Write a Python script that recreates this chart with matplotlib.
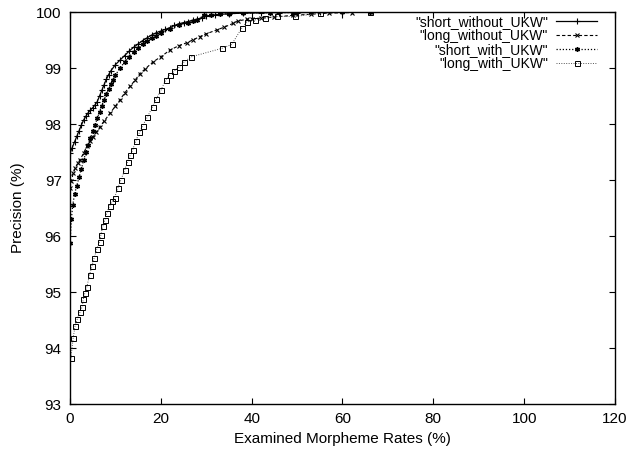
import matplotlib
matplotlib.use("Agg")
import matplotlib.pyplot as plt

plt.rcParams['font.family'] = ['Liberation Sans', 'DejaVu Sans']

# short_without_UKW
s1_x = [0, 0.5, 1, 1.5, 2, 2.5, 3, 3.5, 4, 4.5, 5, 5.5, 6, 6.5, 7, 7.5, 8, 8.5, 9, 10,
        11, 12, 13, 14, 15, 16, 17, 18, 19, 20, 21, 22, 23, 24, 25, 26, 27, 28, 29, 30,
        32, 35, 38, 42, 46, 50, 55, 60, 66]
s1_y = [97.48, 97.58, 97.68, 97.78, 97.88, 97.98, 98.07, 98.14, 98.2, 98.25,
        98.29, 98.34, 98.4, 98.5, 98.6, 98.7, 98.8, 98.88, 98.95, 99.06,
        99.14, 99.22, 99.3, 99.37, 99.43, 99.49, 99.54, 99.59, 99.63, 99.66,
        99.69, 99.72, 99.76, 99.79, 99.81, 99.83, 99.85, 99.87, 99.9, 99.93,
        99.95, 99.97, 99.98, 99.985, 99.99, 99.99, 99.995, 100, 100]

# long_without_UKW
s2_x = [0, 0.3, 0.7, 1.2, 1.7, 2.2, 3, 3.7, 4.4, 5.1,
        5.8, 6.6, 7.5, 8.8, 10, 11, 12, 13.2, 14.3, 15.4,
        16.5, 18.3, 20, 22, 24, 25.7, 27, 28.6, 30, 32.3,
        34, 36, 37, 38.9, 40, 42, 45, 49, 53, 57, 62, 66]
s2_y = [96.86, 96.98, 97.12, 97.22, 97.3, 97.36, 97.48, 97.6, 97.69, 97.77,
        97.86, 97.95, 98.05, 98.19, 98.32, 98.43, 98.55, 98.67, 98.78, 98.9,
        98.98, 99.11, 99.2, 99.32, 99.4, 99.45, 99.5, 99.56, 99.61, 99.68,
        99.73, 99.8, 99.84, 99.87, 99.88, 99.89, 99.91, 99.94, 99.96, 99.98, 99.99, 100]

# short_with_UKW
s3_x = [0, 0.3, 0.6, 1, 1.5, 2, 2.5, 3, 3.5, 4,
        4.5, 5, 5.5, 6, 6.5, 7, 7.5, 8, 8.5, 9,
        9.5, 10, 11, 12, 13, 14, 15, 16, 17, 18,
        19, 20, 22, 24, 26, 27, 28, 29.5, 31, 33,
        35, 38, 44, 49, 53, 60, 66]
s3_y = [95.87, 96.3, 96.55, 96.75, 96.9, 97.05, 97.2, 97.35, 97.5, 97.63,
        97.75, 97.87, 97.98, 98.1, 98.22, 98.33, 98.43, 98.53, 98.62, 98.71,
        98.79, 98.87, 99.0, 99.1, 99.2, 99.28, 99.35, 99.42, 99.48, 99.53,
        99.58, 99.62, 99.7, 99.76, 99.81, 99.84, 99.86, 99.94, 99.95, 99.96,
        99.97, 99.98, 99.99, 99.99, 99.995, 100, 100]

# long_with_UKW
s4_x = [0.2, 0.7, 1.1, 1.6, 2.2, 2.7, 2.9, 3.3, 3.7, 4.3,
        4.8, 5.3, 5.9, 6.5, 6.8, 7.2, 7.7, 8.1, 8.7, 9.3,
        9.8, 10.5, 11.2, 12, 12.7, 13.3, 13.8, 14.5, 15.3, 16,
        17, 18.2, 19, 20, 21.1, 22, 23, 24.1, 25, 26.7,
        33.4, 35.6, 37.8, 38.9, 40.7, 42.9, 45.5, 49.6, 55, 66]
s4_y = [93.82, 94.18, 94.39, 94.52, 94.64, 94.74, 94.87, 94.99, 95.09, 95.3,
        95.46, 95.6, 95.77, 95.9, 96.02, 96.17, 96.29, 96.41, 96.54, 96.62,
        96.68, 96.85, 97.0, 97.17, 97.33, 97.45, 97.54, 97.7, 97.85, 97.97,
        98.12, 98.31, 98.45, 98.6, 98.79, 98.88, 98.95, 99.02, 99.1, 99.2,
        99.35, 99.42, 99.71, 99.82, 99.86, 99.89, 99.92, 99.92, 99.98, 100]

labels = ['"short_without_UKW"', '"long_without_UKW"', '"short_with_UKW"', '"long_with_UKW"']
x_ticks = [0, 20, 40, 60, 80, 100, 120]
y_ticks = [93, 94, 95, 96, 97, 98, 99, 100]

FS = 11
LFS = 10
fig = plt.figure(figsize=(6.27, 4.53), dpi=100)
ax = fig.add_axes([70 / 627, 1 - 404 / 453, 545 / 627, 392 / 453])

asterisk = (6, 2, 0)
h1, = ax.plot(s1_x, s1_y, color='black', lw=0.9, ls='-', marker='+', ms=4.5, mew=0.8)
h2, = ax.plot(s2_x, s2_y, color='black', lw=0.8, ls=(0, (3, 2)), marker='x', ms=3.5, mew=0.8)
h3, = ax.plot(s3_x, s3_y, color='black', lw=0.9, ls=(0, (1, 1.5)), marker=asterisk, ms=3.5, mew=1.0)
h4, = ax.plot(s4_x, s4_y, color='#555555', lw=0.7, ls=(0, (1, 1.5)), marker='s', ms=3.6,
              mfc='none', mec='black', mew=0.7)

ax.set_xlim(0, 120)
ax.set_ylim(93, 100)
ax.set_xticks(x_ticks)
ax.set_yticks(y_ticks)
ax.tick_params(direction='in', top=True, right=True, length=4, width=0.8,
               labelsize=FS, pad=6)
for s in ax.spines.values():
    s.set_linewidth(1.0)

ax.set_xlabel('Examined Morpheme Rates (%)', fontsize=FS, labelpad=4)
ax.set_ylabel('Precision (%)', fontsize=FS, labelpad=8)

leg = ax.legend([h1, h2, h3, h4], labels, loc='upper right', markerfirst=False,
                frameon=False, numpoints=1, fontsize=LFS, handlelength=2.95,
                handletextpad=0.58, labelspacing=0.0, borderpad=0, borderaxespad=0,
                bbox_to_anchor=((597 - 70) / 545, (404 - 15) / 392))

fig.savefig('out.png', dpi=100)
